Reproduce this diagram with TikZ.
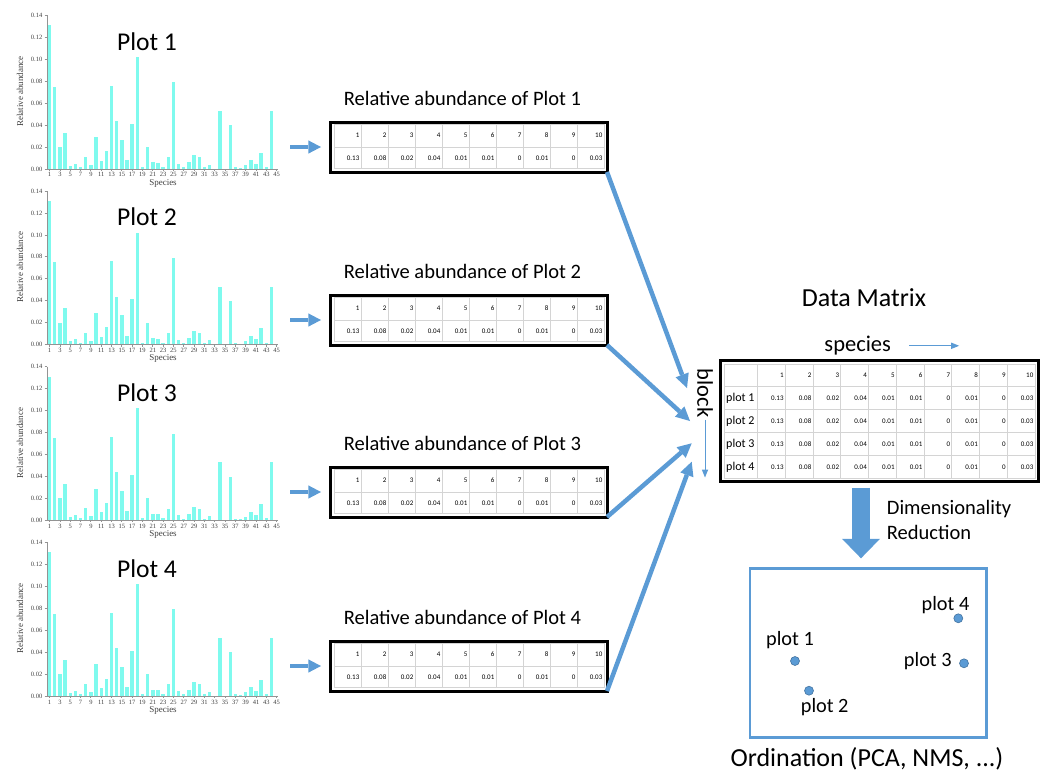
\documentclass[tikz,border=0pt]{standalone}
\usepackage{fontspec}
\setmainfont{Carlito}
\newfontfamily\chartfont{Liberation Serif}
\usetikzlibrary{arrows.meta}

\definecolor{officeblue}{HTML}{5B9BD5}
\definecolor{barcyan}{RGB}{127,250,238}
\definecolor{cellgray}{HTML}{D4D4D4}
\newcommand{\pxfont}[1]{\fontsize{#1}{#1}\selectfont}
% bar heights of the species chart, species 1 to 45
\newcommand{\barvalues}{0.131,0.075,0.020,0.033,0.003,0.005,0.002,0.011,0.0036,0.029,0.0073,0.016,0.076,0.0437,0.0267,0.0082,0.0413,0.102,0.002,0.020,0.006,0.0055,0.002,0.0106,0.079,0.0045,0.0015,0.006,0.0124,0.0106,0.0015,0.004,0,0.053,0,0.0398,0.0015,0.001,0.0033,0.008,0.0049,0.015,0.002,0.053,0}
\newcommand{\rowvalues}{0.13,0.08,0.02,0.04,0.01,0.01,0,0.01,0,0.03}

\begin{document}
\begin{tikzpicture}[x=1pt,y=-1pt]
\tikzset{
  every node/.style={inner sep=1pt},
  plottitle/.style={font=\pxfont{25.6}, anchor=base},
  axisline/.style={draw=gray!85, line width=0.8pt},
  ticklab/.style={font=\chartfont\pxfont{6.5}, text=black!75, inner sep=0pt},
  axislab/.style={font=\chartfont\pxfont{9}, text=black!75, inner sep=0pt},
  tabbox/.style={draw, line width=3pt, minimum width=277pt, minimum height=50pt, inner sep=0pt, outer sep=0pt},
  matbox/.style={draw, line width=3pt, minimum width=318pt, minimum height=120.7pt, inner sep=0pt, outer sep=0pt},
  ordbox/.style={draw=officeblue, line width=2.5pt, minimum width=236.7pt, minimum height=169pt, inner sep=0pt, outer sep=0pt},
  gridline/.style={draw=cellgray, line width=0.7pt},
  cell/.style={font=\pxfont{7}, anchor=east, inner sep=0pt},
  rowlab/.style={font=\pxfont{12}, anchor=west, inner sep=0pt},
  tabtitle/.style={font=\pxfont{20.5}, anchor=base},
  bigtitle/.style={font=\pxfont{26}, anchor=base},
  sidelab/.style={font=\pxfont{22.5}},
  steplab/.style={font=\pxfont{20.5}, anchor=base west},
  ptlab/.style={font=\pxfont{20.3}, anchor=base},
  dot/.style={circle, fill=officeblue, draw=officeblue!75!black, line width=0.6pt, minimum size=9pt, inner sep=0pt},
  smallarr/.style={draw=officeblue, line width=4.7pt, -{Triangle[length=12.7pt,width=13.3pt,line width=0pt]}},
  bigarr/.style={draw=officeblue, line width=4.5pt, -{Triangle[length=14pt,width=14pt,line width=0pt]}},
  thinarr/.style={draw=officeblue, line width=0.9pt, -{Triangle[length=8pt,width=6.5pt,line width=0pt]}},
  bigdown/.style={draw=officeblue, line width=18pt, -{Triangle[length=19.5pt,width=38pt,line width=0pt]}}
}
\useasboundingbox (0,0) rectangle (1045,780);

% bar charts
\foreach \p in {1,...,4} {
  \begin{scope}[shift={(47,{169+175.7*(\p-1)})}]
    \foreach \h [count=\i] in \barvalues
      \fill[barcyan] ({0.9+(\i-1)*5.16},0) rectangle ++(3.4,{-\h*1098});
    \draw[axisline] (0,-153.7) -- (0,0) -- (231,0);
    \foreach \v [count=\j from 0] in {0.00,0.02,0.04,0.06,0.08,0.10,0.12,0.14} {
      \draw[axisline] (-2.5,{-21.96*\j}) -- (0,{-21.96*\j});
      \node[ticklab, anchor=east] (yt\p-\j) at (-4.5,{-21.96*\j}) {\v};
    }
    \foreach \k in {1,3,...,45} {
      \draw[axisline] ({2.6+(\k-1)*5.16},0) -- ++(0,2);
      \node[ticklab] (xt\p-\k) at ({2.6+(\k-1)*5.16},5.8) {\k};
    }
    \node[axislab, anchor=base] (xl\p) at (116,16) {Species};
    \node[axislab, rotate=90] (yl\p) at (-27,-77.5) {Relative abundance};
    \node[plottitle] (pt\p) at (100,-119) {Plot \p};
  \end{scope}
}

% relative abundance tables
\foreach \t/\top in {1/122,2/295,3/467,4/641} {
  \draw[gridline] (334,{\top+2.5}) rectangle (604,{\top+46});
  \draw[gridline] (334,{\top+25}) -- (604,{\top+25});
  \foreach \c in {1,...,9}
    \draw[gridline] ({334+27*\c},{\top+2.5}) -- ({334+27*\c},{\top+46});
  \foreach \c in {1,...,10}
    \node[cell] (th\t-\c) at ({332.5+27*\c},{\top+13.5}) {\c};
  \foreach \v [count=\c] in \rowvalues
    \node[cell] (tv\t-\c) at ({332.5+27*\c},{\top+36}) {\v};
  \node[tabbox] (tab\t) at (468.5,{\top+25}) {};
  \node[tabtitle] (tt\t) at (462.5,{\top-17}) {Relative abundance of Plot \t};
  \coordinate (sa\t) at (290,{\top+25});
  \draw[smallarr, shorten >=9pt] (sa\t) -- (tab\t.west);
}

% data matrix
\draw[gridline] (724,364) rectangle (1035,478.5);
\foreach \c in {0,...,9}
  \draw[gridline] ({757.5+27.75*\c},364) -- ({757.5+27.75*\c},478.5);
\foreach \r in {0,...,3}
  \draw[gridline] (724,{386.5+23*\r}) -- (1035,{386.5+23*\r});
\foreach \c in {1,...,10}
  \node[cell] (mh\c) at ({756+27.75*\c},375.3) {\c};
\foreach \r in {1,...,4} {
  \node[rowlab] (ml\r) at (726,{398+23*(\r-1)}) {plot \r};
  \foreach \v [count=\c] in \rowvalues
    \node[cell] (mv\r-\c) at ({756+27.75*\c},{398+23*(\r-1)}) {\v};
}
\node[matbox] (dm) at (879,421.3) {};
\node[bigtitle] (dmt) at (864,306) {Data Matrix};
\node[sidelab, anchor=base] (spc) at (857.7,351.7) {species};
\draw[thinarr] ([xshift=17pt]spc.east) -- ++(50,0);
\node[sidelab, rotate=-90] (blk) at (705,393) {block};
\draw[thinarr] ([yshift=-1pt]blk.east) -- ++(0,58);

% tables into the matrix
\coordinate (in1) at (687,388);
\coordinate (in2) at (690,421);
\coordinate (in3) at (691.7,443.3);
\coordinate (in4) at (691.7,461.7);
\foreach \t in {1,...,4}
  \draw[bigarr] (tab\t.south east) -- (in\t);

% ordination
\node[ordbox] (ord) at (868.3,652.8) {};
\draw[bigdown, shorten <=6.3pt, shorten >=10pt] ([xshift=-18pt]dm.south) -- ([xshift=-18pt]dm.south |- ord.north);
\node[steplab] (dr1) at (885.7,514.3) {Dimensionality};
\node[steplab] (dr2) at (885.7,539.3) {Reduction};
\node[dot] (d1) at (795,661) {};
\node[dot] (d2) at (809,690.7) {};
\node[dot] (d3) at (964,663.3) {};
\node[dot] (d4) at (958.3,618.3) {};
\node[ptlab] (l1) at (790,645.7) {plot 1};
\node[ptlab] (l2) at (824.7,712.3) {plot 2};
\node[ptlab] (l3) at (927.8,666) {plot 3};
\node[ptlab] (l4) at (945.5,610) {plot 4};
\node[bigtitle] (ordt) at (867,766.7) {Ordination (PCA, NMS, ...)};
\end{tikzpicture}
\end{document}
